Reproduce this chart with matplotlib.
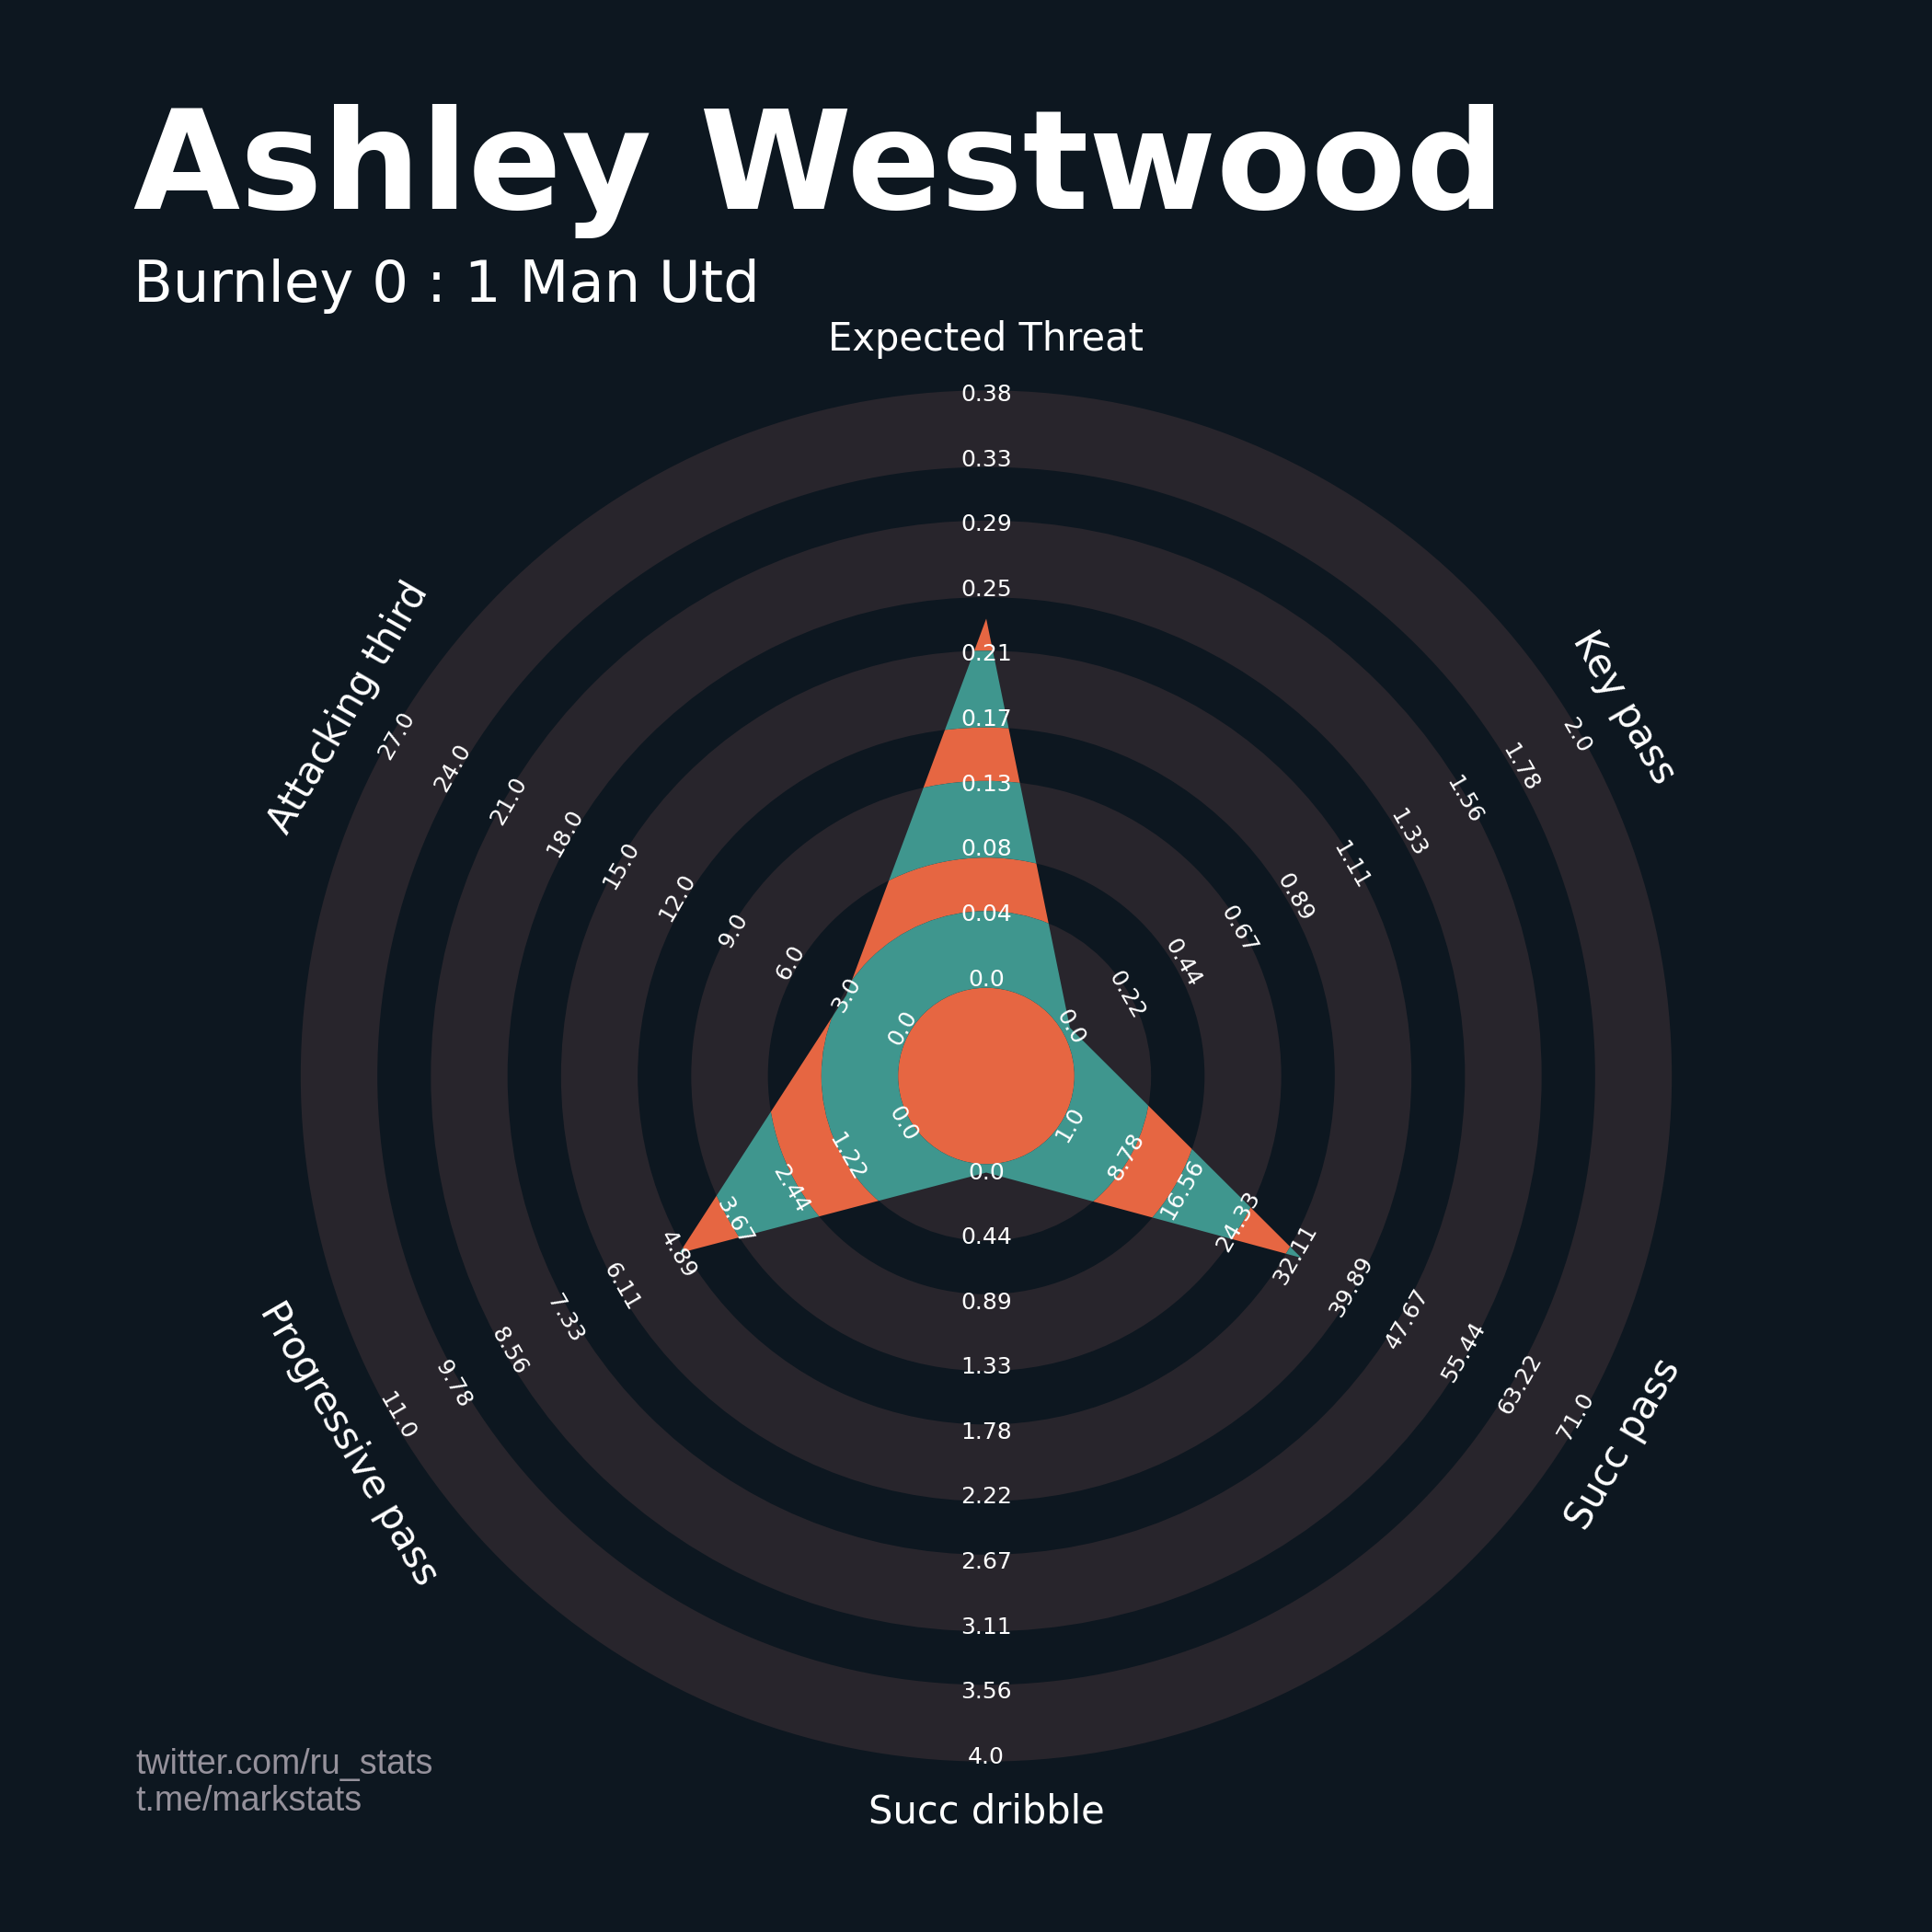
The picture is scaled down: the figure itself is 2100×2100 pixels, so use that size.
import numpy as np
import matplotlib.pyplot as plt
from matplotlib.patches import Polygon, Circle

# data
params = ['Expected Threat', 'Key pass', 'Succ pass', 'Succ dribble', 'Progressive pass', 'Attacking third']
low = [0.0, 0.0, 1.0, 0.0, 0.0, 0.0]
high = [0.376, 2.0, 71.0, 4.0, 11.0, 27.0]
values = [0.232, 0.0, 33.0, 0.0, 4.85, 3.0]

range_labels = [
    ['0.0', '0.04', '0.08', '0.13', '0.17', '0.21', '0.25', '0.29', '0.33', '0.38'],
    ['0.0', '0.22', '0.44', '0.67', '0.89', '1.11', '1.33', '1.56', '1.78', '2.0'],
    ['1.0', '8.78', '16.56', '24.33', '32.11', '39.89', '47.67', '55.44', '63.22', '71.0'],
    ['0.0', '0.44', '0.89', '1.33', '1.78', '2.22', '2.67', '3.11', '3.56', '4.0'],
    ['0.0', '1.22', '2.44', '3.67', '4.89', '6.11', '7.33', '8.56', '9.78', '11.0'],
    ['0.0', '3.0', '6.0', '9.0', '12.0', '15.0', '18.0', '21.0', '24.0', '27.0'],
]

title = 'Ashley Westwood'
subtitle = 'Burnley 0 : 1 Man Utd'
endnote = ['twitter.com/ru_stats', 't.me/markstats']

# colours
bg = '#0d1720'
ring_col = '#28252c'
orange = '#e66642'
teal = '#3f968e'

fig = plt.figure(figsize=(7, 7), dpi=300, facecolor=bg)
ax = fig.add_axes([0, 0, 1, 1])
ax.set_facecolor(bg)
ax.axis('off')
# one unit = one pixel, radar centre at origin
ax.set_xlim(-1072, 1028)
ax.set_ylim(-930.5, 1169.5)

r_in, r_step = 105, 70.6
ring_radii = [137.5, 279, 420.5, 562, 703.5]

deg = 90 - 60 * np.arange(len(params))
ang = np.deg2rad(deg)

low = np.array(low)
high = np.array(high)
vals = np.array(values)
frac = (vals - low) / (high - low)
r = r_in + frac * 9 * r_step
verts = np.column_stack([r * np.cos(ang), r * np.sin(ang)])

poly = Polygon(verts, closed=True, fc=orange, ec='none', zorder=1)
ax.add_patch(poly)

for rad in ring_radii:
    ax.add_patch(Circle((0, 0), rad, fc='none', ec=ring_col, lw=20, zorder=2))
    c2 = Circle((0, 0), rad, fc='none', ec=teal, lw=20, zorder=3)
    ax.add_patch(c2)
    c2.set_clip_path(poly)


def rot_of(d, a):
    s = np.sin(a)
    if s > 0.01:
        rot = d - 90
    elif s < -0.01:
        rot = d + 90
    else:
        rot = 0
    while rot > 90:
        rot -= 180
    while rot <= -90:
        rot += 180
    return rot


for i, p in enumerate(params):
    rot = rot_of(deg[i], ang[i])
    for j, lab in enumerate(range_labels[i]):
        rr = r_in + j * r_step
        ax.text(rr * np.cos(ang[i]), rr * np.sin(ang[i]), lab, rotation=rot,
                rotation_mode='anchor', ha='center', va='center',
                fontsize=6, color='white', zorder=4)
    ax.text(800 * np.cos(ang[i]), 800 * np.sin(ang[i]), p, rotation=rot,
            rotation_mode='anchor', ha='center', va='center',
            fontsize=10, color='white', zorder=4)

fig.text(0.069, 0.892, title, fontsize=36, fontweight='bold', color='white', va='baseline')
fig.text(0.069, 0.844, subtitle, fontsize=15, color='white', va='baseline')

fig.text(0.070, 0.0819, endnote[0], family='Liberation Sans', fontsize=9, color='#95919b', va='baseline')
fig.text(0.070, 0.0629, endnote[1], family='Liberation Sans', fontsize=9, color='#95919b', va='baseline')

fig.savefig('out.png', dpi=300, facecolor=bg)
